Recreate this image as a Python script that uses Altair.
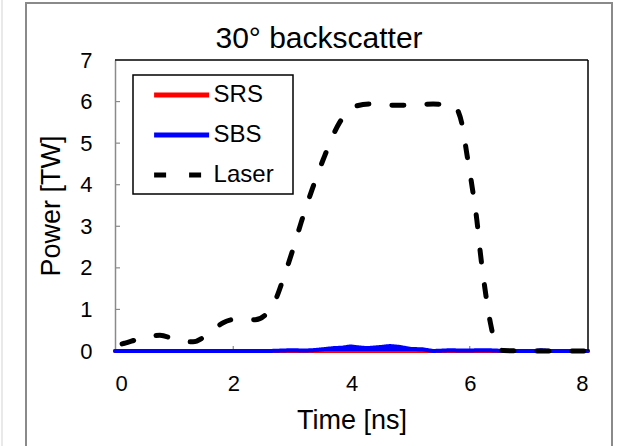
import altair as alt
import pandas as pd

# ---------------- data ----------------
title_text = "30° backscatter"
series_names = ["SRS", "SBS", "Laser"]
series_colors = ["#ff0000", "#0000ff", "#000000"]

laser_time = [0.12, 0.17, 0.46, 0.76, 1.05, 1.32, 1.57, 1.83, 2.08, 2.37, 2.59,
              2.72, 2.86, 3.0, 3.15, 3.33, 3.52, 3.8, 4.05, 4.3, 4.78, 5.38,
              5.72, 5.8, 5.87, 5.95, 6.04, 6.12, 6.18, 6.26, 6.35, 6.46, 6.57,
              7.0, 8.0]
laser_power = [0.17, 0.19, 0.31, 0.38, 0.26, 0.22, 0.4, 0.68, 0.77, 0.75, 0.94,
               1.25, 1.8, 2.4, 3.1, 3.87, 4.6, 5.5, 5.88, 5.94, 5.91, 5.94,
               5.92, 5.78, 5.45, 4.75, 3.95, 3.15, 2.35, 1.47, 0.67, 0.1, 0.01,
               0.0, 0.0]

sbs_time = [0.0, 2.6, 2.8, 3.0, 3.2, 3.35, 3.5, 3.7, 3.85, 3.98, 4.1, 4.26,
            4.45, 4.65, 4.8, 5.0, 5.2, 5.38, 5.55, 5.67, 5.85, 6.0, 6.15, 6.3,
            6.45, 6.6, 7.1, 7.2, 7.35, 8.0]
sbs_power = [0.0, 0.0, 0.01, 0.02, 0.01, 0.02, 0.04, 0.07, 0.08, 0.11, 0.09, 0.07,
             0.09, 0.12, 0.1, 0.05, 0.04, 0.0, 0.01, 0.02, 0.01, 0.01, 0.02, 0.02,
             0.01, 0.0, 0.0, 0.02, 0.0, 0.0]

srs_time = [0.0, 8.0]
srs_power = [0.0, 0.0]

x_tick_values = [0, 2, 4, 6, 8]
y_tick_values = [0, 1, 2, 3, 4, 5, 6, 7]
x_inner_ticks = [2, 4, 6]
y_inner_ticks = [1, 2, 3, 4, 5, 6]

# ---------------- tables ----------------
df = pd.concat([
    pd.DataFrame({"t": srs_time, "p": srs_power, "series": "SRS"}),
    pd.DataFrame({"t": sbs_time, "p": sbs_power, "series": "SBS"}),
    pd.DataFrame({"t": laser_time, "p": laser_power, "series": "Laser"}),
], ignore_index=True)

W, H = 473, 291
FONT = "Liberation Sans"
GRAY = "#8a8a8a"

x_enc = alt.X("t:Q", scale=alt.Scale(domain=[0, 8], nice=False, zero=False),
              axis=alt.Axis(values=x_tick_values, title="Time [ns]"))
y_enc = alt.Y("p:Q", scale=alt.Scale(domain=[0, 7], nice=False),
              axis=alt.Axis(values=y_tick_values, title="Power [TW]"))

# custom horizontal stroke symbol: 55 px long while nominal size stays small
legend = alt.Legend(orient="none", legendX=38, legendY=23, title=None,
                    labelFontSize=24, labelFont=FONT, labelColor="black",
                    symbolType="M-4,0H4", symbolSize=189, symbolStrokeWidth=5,
                    symbolOffset=16.6, labelOffset=20,
                    rowPadding=16, padding=0)

color_enc = alt.Color("series:N", scale=alt.Scale(domain=series_names, range=series_colors),
                      legend=legend)
dash_enc = alt.StrokeDash("series:N",
                          scale=alt.Scale(domain=series_names, range=[[1, 0], [1, 0], [12, 23]]),
                          legend=legend)

base = alt.Chart(df)
one = pd.DataFrame({"a": [0]})

outer_frame = alt.Chart(one).mark_rect(fill="white", fillOpacity=0, stroke=GRAY,
                                       strokeWidth=2).encode(
    x=alt.value(-89), x2=alt.value(497), y=alt.value(-57), y2=alt.value(420))
faint_line = alt.Chart(one).mark_rule(color="#e2e2e2", strokeWidth=1.5).encode(
    x=alt.value(-113), y=alt.value(-60), y2=alt.value(400))
top_border = alt.Chart(one).mark_rule(color="black", strokeWidth=1.5).encode(
    x=alt.value(0), x2=alt.value(W), y=alt.value(0))
right_border = alt.Chart(one).mark_rule(color="black", strokeWidth=1.5).encode(
    x=alt.value(W), y=alt.value(0), y2=alt.value(H))
title_mark = alt.Chart(pd.DataFrame({"label": [title_text]})).mark_text(
    font=FONT, fontSize=30, color="black", align="center", baseline="alphabetic").encode(
    text="label:N", x=alt.value(204), y=alt.value(-12))

xt = alt.Chart(pd.DataFrame({"t": x_inner_ticks})).mark_rule(color=GRAY, strokeWidth=1.2).encode(
    x=x_enc, y=alt.value(H), y2=alt.value(H - 5))
yt = alt.Chart(pd.DataFrame({"p": y_inner_ticks})).mark_rule(color=GRAY, strokeWidth=1.2).encode(
    y=y_enc, x=alt.value(0), x2=alt.value(5))

srs_line = base.transform_filter(alt.datum.series == "SRS").mark_line(
    strokeWidth=4, strokeCap="round").encode(x=x_enc, y=y_enc, color=color_enc, strokeDash=dash_enc)
sbs_area = base.transform_filter(alt.datum.series == "SBS").mark_area(
    color="#0000ff", interpolate="linear").encode(x=x_enc, y=y_enc)
sbs_line = base.transform_filter(alt.datum.series == "SBS").mark_line(
    strokeWidth=4, strokeCap="round", interpolate="linear").encode(
    x=x_enc, y=y_enc, color=color_enc, strokeDash=dash_enc)
laser_line = base.transform_filter(alt.datum.series == "Laser").mark_line(
    strokeWidth=5, strokeCap="round", interpolate="monotone").encode(
    x=x_enc, y=y_enc, color=color_enc, strokeDash=dash_enc)

legend_box = alt.Chart(one).mark_rect(fill="white", fillOpacity=0, stroke="black",
                                      strokeWidth=1.5).encode(
    x=alt.value(18), x2=alt.value(178), y=alt.value(15), y2=alt.value(134))

chart = alt.layer(
    outer_frame, faint_line, title_mark, xt, yt, srs_line, sbs_area, sbs_line, laser_line,
    top_border, right_border, legend_box
).properties(
    width=W, height=H,
    padding={"left": 115, "top": 60, "right": 30, "bottom": 95},
    autosize=alt.AutoSizeParams(type="none"),
    background="white",
).configure_view(stroke=None).configure_axis(
    domainColor=GRAY, domainWidth=1.5, ticks=False, grid=False,
    labelFont=FONT, labelFontSize=22, labelColor="black",
    titleFont=FONT, titleFontSize=27, titleFontWeight="normal", titleColor="black",
).configure_axisX(labelPadding=22, titlePadding=13).configure_axisY(
    labelPadding=23, titlePadding=14)

chart.save("out.html", embed_options={"renderer": "svg", "actions": False})
